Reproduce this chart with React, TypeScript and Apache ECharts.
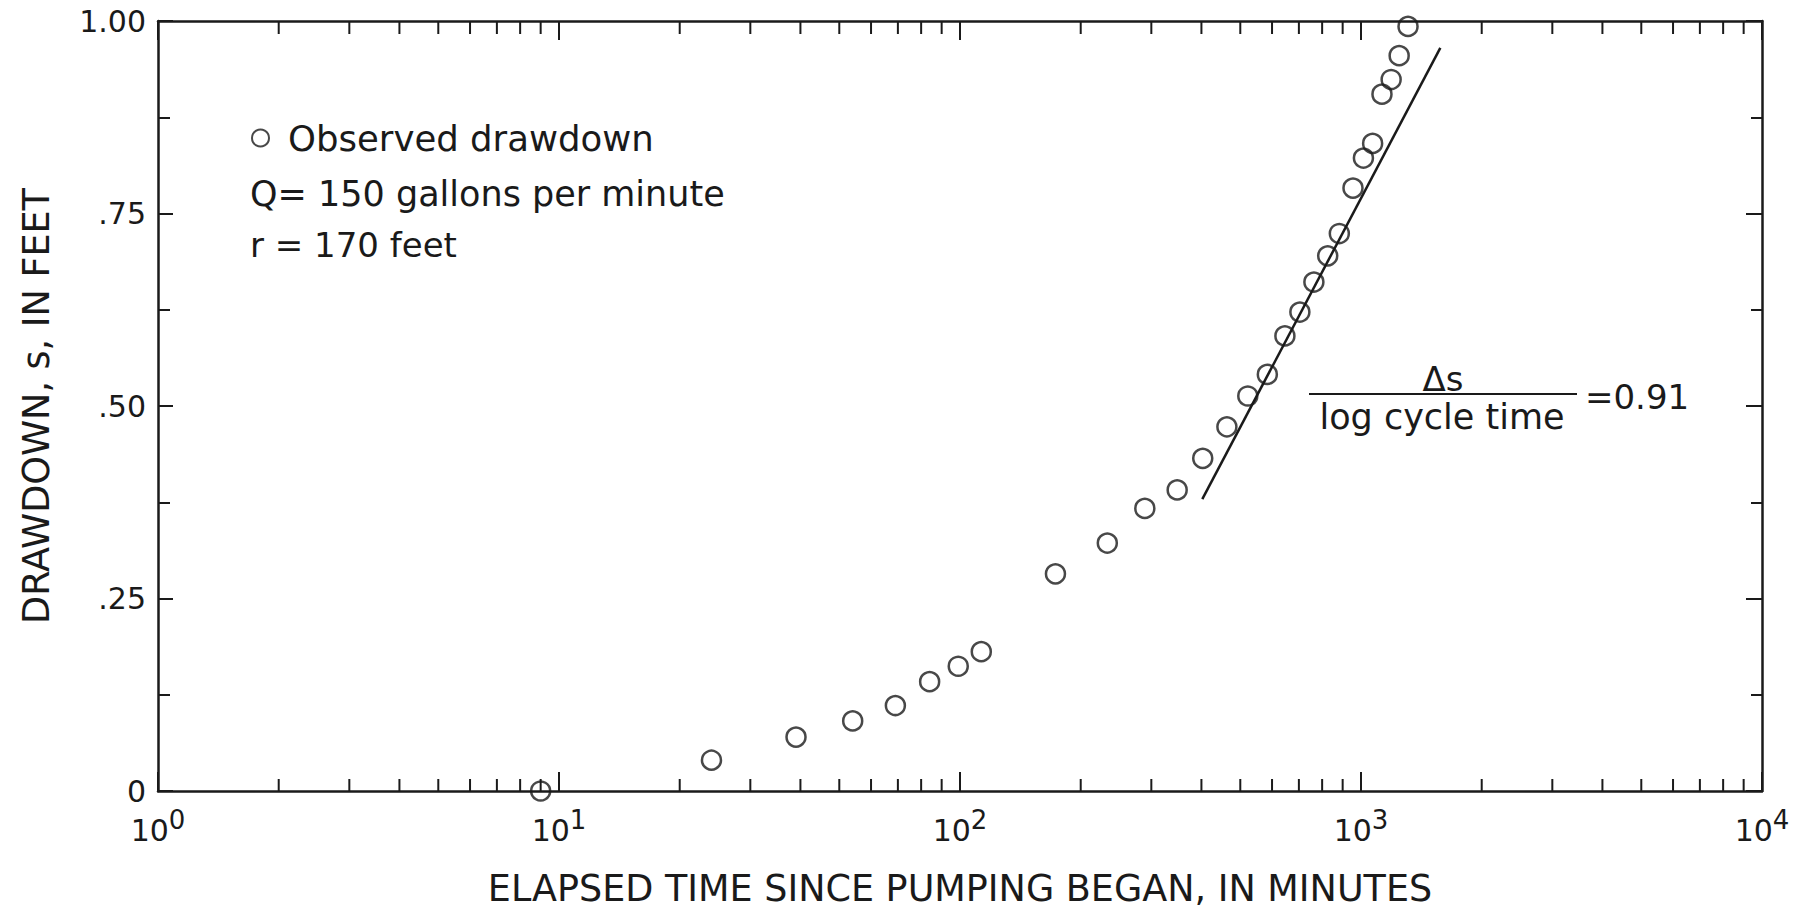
import { useEffect, useRef } from 'react';
import * as echarts from 'echarts';

// ---- data ----
const elapsedMinutes = [9, 24, 39, 54, 69, 84, 99, 113, 173, 233, 289, 348, 403, 463, 522, 584, 646, 704, 763, 826, 883, 955, 1014, 1069, 1128, 1189, 1245, 1310];
const drawdownFeet = [0, 0.04, 0.07, 0.091, 0.111, 0.142, 0.162, 0.181, 0.282, 0.322, 0.367, 0.391, 0.432, 0.473, 0.513, 0.541, 0.591, 0.622, 0.661, 0.695, 0.724, 0.783, 0.822, 0.841, 0.905, 0.924, 0.955, 0.993];
const fitLineTime = [402, 1577];
const fitLineDrawdown = [0.379, 0.965];
const xExponentLabels = ['0', '1', '2', '3', '4'];
const yTickLabels = ['0', '.25', '.50', '.75', '1.00'];
const decades = [1, 10, 100, 1000];
const minorMultipliers = [2, 3, 4, 5, 6, 7, 8, 9];

const INK = '#1a1a1a';
const FONT = '"DejaVu Sans", sans-serif';

export default function App() {
  const ref = useRef<HTMLDivElement>(null);

  useEffect(() => {
    if (!ref.current) return;
    const chart = echarts.init(ref.current, undefined, { renderer: 'svg' });

    const minorTicks: number[][] = [];
    decades.forEach((d) => minorMultipliers.forEach((m) => minorTicks.push([d * m, 0])));

    const axisLine = { show: true, onZero: false, lineStyle: { color: INK, width: 2.5 } };
    const tickLine = { color: INK, width: 2 };

    const option: any = {
      animation: false,
      backgroundColor: '#ffffff',
      grid: { left: 158, right: 51, top: 21, bottom: 120 },
      legend: {
        data: ['Observed drawdown'],
        left: 246,
        top: 115,
        icon: 'circle',
        itemWidth: 17,
        itemHeight: 17,
        itemStyle: { color: 'rgba(255,255,255,0)', borderColor: INK, borderWidth: 2 },
        textStyle: { fontSize: 35.5, fontFamily: FONT, color: INK, padding: [0, 0, 0, 14] },
        selectedMode: false,
      },
      xAxis: [
        {
          type: 'log',
          logBase: 10,
          min: 1,
          max: 10000,
          position: 'bottom',
          axisLine,
          axisTick: { show: true, inside: true, length: 19, lineStyle: tickLine },
          axisLabel: {
            margin: 16,
            formatter: (v: number) => `{b|10}{s|${xExponentLabels[Math.round(Math.log10(v))]}}`,
            rich: {
              b: { fontSize: 30, fontFamily: FONT, color: INK, lineHeight: 46, verticalAlign: 'middle' },
              s: { fontSize: 26, fontFamily: FONT, color: INK, lineHeight: 26, verticalAlign: 'top' },
            },
          },
          splitLine: { show: false },
          name: 'ELAPSED TIME SINCE PUMPING BEGAN, IN MINUTES',
          nameLocation: 'middle',
          nameGap: 79,
          nameTextStyle: { fontSize: 36.5, fontFamily: FONT, color: INK },
        },
        {
          type: 'log',
          logBase: 10,
          min: 1,
          max: 10000,
          position: 'top',
          axisLine,
          axisTick: { show: true, inside: true, length: 19, lineStyle: tickLine },
          axisLabel: { show: false },
          splitLine: { show: false },
        },
      ],
      yAxis: [
        {
          type: 'value',
          min: 0,
          max: 1,
          interval: 0.25,
          position: 'left',
          axisLine,
          axisTick: { show: true, inside: true, length: 15, lineStyle: tickLine },
          minorTick: { show: true, splitNumber: 2, length: 12, lineStyle: tickLine },
          axisLabel: {
            margin: 12,
            fontSize: 30,
            fontFamily: FONT,
            color: INK,
            formatter: (v: number) => yTickLabels[Math.round(v / 0.25)],
          },
          splitLine: { show: false },
          minorSplitLine: { show: false },
          name: 'DRAWDOWN, s, IN FEET',
          nameLocation: 'middle',
          nameGap: 103,
          nameTextStyle: { fontSize: 36.5, fontFamily: FONT, color: INK },
        },
        {
          type: 'value',
          min: 0,
          max: 1,
          interval: 0.25,
          position: 'right',
          axisLine,
          axisTick: { show: true, inside: true, length: 16, lineStyle: tickLine },
          minorTick: { show: true, splitNumber: 2, length: 11, lineStyle: tickLine },
          axisLabel: { show: false },
          splitLine: { show: false },
          minorSplitLine: { show: false },
        },
      ],
      series: [
        {
          type: 'custom',
          name: 'minor ticks',
          xAxisIndex: 0,
          yAxisIndex: 0,
          silent: true,
          clip: false,
          encode: { x: 0, y: 1 },
          data: minorTicks,
          renderItem: (params: any, api: any) => {
            const pt = api.coord([api.value(0), 0.5]);
            const cs = params.coordSys;
            const bottom = cs.y + cs.height;
            return {
              type: 'group',
              children: [
                { type: 'line', shape: { x1: pt[0], y1: bottom, x2: pt[0], y2: bottom - 12 }, style: { stroke: INK, lineWidth: 2 } },
                { type: 'line', shape: { x1: pt[0], y1: cs.y, x2: pt[0], y2: cs.y + 13 }, style: { stroke: INK, lineWidth: 2 } },
              ],
            };
          },
        },
        {
          type: 'line',
          name: 'fit',
          data: fitLineTime.map((t, i) => [t, fitLineDrawdown[i]]),
          symbol: 'none',
          lineStyle: { color: INK, width: 2.5 },
          silent: true,
        },
        {
          type: 'scatter',
          name: 'Observed drawdown',
          data: elapsedMinutes.map((t, i) => [t, drawdownFeet[i]]),
          symbol: 'circle',
          symbolSize: 19,
          clip: false,
          itemStyle: { color: 'rgba(255,255,255,0)', borderColor: INK, borderWidth: 2.5 },
        },
      ],
      graphic: [
        { type: 'text', x: 250, y: 194, style: { text: 'Q= 150 gallons per minute', fontSize: 35, fontFamily: FONT, fill: INK, align: 'left', verticalAlign: 'middle' } },
        { type: 'text', x: 250, y: 245, style: { text: 'r = 170 feet', fontSize: 34, fontFamily: FONT, fill: INK, align: 'left', verticalAlign: 'middle' } },
        { type: 'text', x: 1443, y: 379, style: { text: 'Δs', fontSize: 34, fontFamily: FONT, fill: INK, align: 'center', verticalAlign: 'middle' } },
        { type: 'line', shape: { x1: 1309, y1: 394, x2: 1577, y2: 394 }, style: { stroke: INK, lineWidth: 2 } },
        { type: 'text', x: 1442, y: 417, style: { text: 'log cycle time', fontSize: 35, fontFamily: FONT, fill: INK, align: 'center', verticalAlign: 'middle' } },
        { type: 'text', x: 1585, y: 397, style: { text: '=0.91', fontSize: 34, fontFamily: FONT, fill: INK, align: 'left', verticalAlign: 'middle' } },
      ],
    };

    chart.setOption(option);
    return () => chart.dispose();
  }, []);

  return (
    <div
      ref={ref}
      style={{ position: 'fixed', left: 0, top: 0, width: 1813, height: 912, background: '#fff' }}
    />
  );
}
